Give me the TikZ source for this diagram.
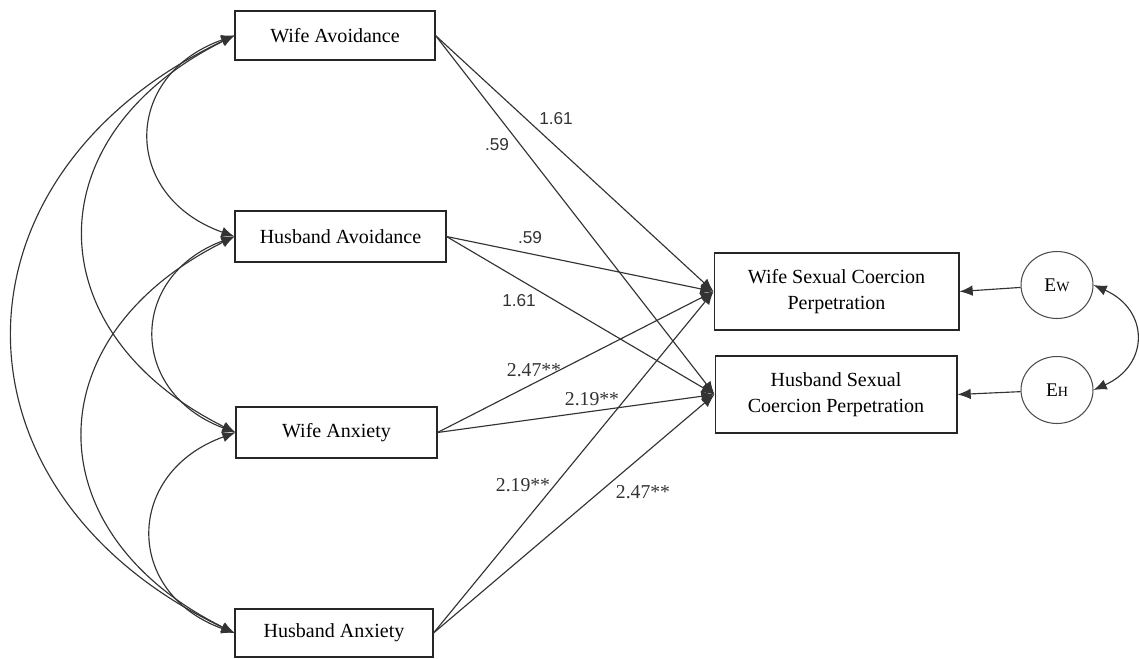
\documentclass[tikz,border=0pt]{standalone}
\usepackage{fontspec}
\setmainfont{Liberation Serif}
\setsansfont{Liberation Sans}
\usetikzlibrary{arrows.meta,positioning,shapes.geometric}

\begin{document}
\begin{tikzpicture}[x=0.02cm,y=-0.02cm,
   box/.style={draw=black!85,line width=0.6pt,inner sep=0pt,align=center,
     font=\fontsize{11.4}{14.7}\selectfont},
   err/.style={draw=black!70,ellipse,line width=0.6pt,minimum width=1.44cm,minimum height=1.34cm,inner sep=0pt,
     font=\fontsize{11}{13}\selectfont},
   lbl/.style={font=\sffamily\fontsize{9.8}{11}\selectfont,text=black!80,inner sep=1pt},
   lbs/.style={font=\fontsize{11.2}{13}\selectfont,text=black!80,inner sep=1pt},
   pth/.style={draw=black!80,line width=0.65pt,-{Latex[length=7.5pt,width=6pt]}},
   cov/.style={draw=black!80,line width=0.65pt,{Latex[length=7.5pt,width=6pt]}-{Latex[length=7.5pt,width=6pt]}}]
  \useasboundingbox (0,0) rectangle (1139,659);
  % exogenous
  \node[box,minimum width=4cm,minimum height=0.98cm] (wav) at (335,35.5) {Wife Avoidance};
  \node[box,minimum width=4.22cm,minimum height=1.02cm] (hav) at (340.5,236.5) {Husband Avoidance};
  \node[box,minimum width=4.02cm,minimum height=1.02cm] (wanx) at (336.5,432.5) {Wife Anxiety};
  \node[box,minimum width=3.96cm,minimum height=0.96cm] (hanx) at (334,633) {Husband Anxiety};
  % outcomes
  \node[box,minimum width=4.9cm,minimum height=1.54cm] (wsc) at (836.5,291.5) {Wife Sexual Coercion\\Perpetration};
  \node[box,minimum width=4.84cm,minimum height=1.54cm] (hsc) at (836,394.5) {Husband Sexual\\Coercion Perpetration};
  \node[err] (ew) at (1057,285) {E{\fontsize{8}{8}\selectfont W}};
  \node[err] (eh) at (1057,390) {E{\fontsize{8}{8}\selectfont H}};
  % paths
  \draw[pth] (wav.east) -- (wsc.west);
  \draw[pth] (wav.east) -- (hsc.west);
  \draw[pth] (hav.east) -- (wsc.west);
  \draw[pth] (hav.east) -- (hsc.west);
  \draw[pth] (wanx.east) -- (wsc.west);
  \draw[pth] (wanx.east) -- (hsc.west);
  \draw[pth] (hanx.east) -- (wsc.west);
  \draw[pth] (hanx.east) -- (hsc.west);
  \draw[pth] (ew) -- (wsc.east);
  \draw[pth] (eh) -- (hsc.east);
  \node[lbl] (l1) at (556,119) {1.61};
  \node[lbl] (l2) at (497,145) {.59};
  \node[lbl] (l3) at (530,238) {.59};
  \node[lbl] (l4) at (519,301) {1.61};
  \node[lbs] (l5) at (534,370) {2.47**};
  \node[lbs] (l6) at (592,399) {2.19**};
  \node[lbs] (l7) at (523,485) {2.19**};
  \node[lbs] (l8) at (643,492) {2.47**};
  % covariances
  \draw[cov] (wav.west) .. controls +(-113,40) and +(-113,-40) .. (hav.west);
  \draw[cov] (wav.west) .. controls +(-201,100) and +(-201,-100) .. (wanx.west);
  \draw[cov] (wav.west) .. controls +(-295,140) and +(-295,-140) .. (hanx.west);
  \draw[cov] (hav.west) .. controls +(-107,40) and +(-107,-40) .. (wanx.west);
  \draw[cov] (hav.west) .. controls +(-201,100) and +(-201,-100) .. (hanx.west);
  \draw[cov] (wanx.west) .. controls +(-111,40) and +(-111,-40) .. (hanx.west);
  \draw[cov] (ew.east) .. controls +(56,25) and +(56,-25) .. (eh.east);
\end{tikzpicture}
\end{document}
